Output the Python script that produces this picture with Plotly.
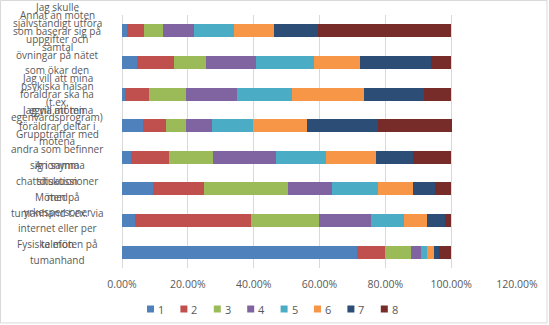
import plotly.graph_objects as go

# Categories, bottom to top (as drawn)
categories = [
    "Fysiska möten på tumanhand",
    "Möten på tumanhand t.ex. via internet eller per telefon",
    "Anonyma chattdiskussioner med yrkespersoner",
    "Gruppträffar med andra som befinner sig i samma situation",
    "Jag vill att mina föräldrar deltar i mötena",
    "Jag vill att mina föräldrar ska ha egna möten",
    "Jag skulle självständigt utföra uppgifter och övningar på nätet som ökar den psykiska hälsan (t.ex. egenvårdsprogram)",
    "Annat än möten som baserar sig på samtal",
]
category_lines = [
    ["Fysiska möten på", "tumanhand"],
    ["Möten på", "tumanhand t.ex. via", "internet eller per", "telefon"],
    ["Anonyma", "chattdiskussioner", "med", "yrkespersoner"],
    ["Gruppträffar med", "andra som befinner", "sig i samma", "situation"],
    ["Jag vill att mina", "föräldrar deltar i", "mötena"],
    ["Jag vill att mina", "föräldrar ska ha", "egna möten"],
    ["Jag skulle", "självständigt utföra", "uppgifter och", "övningar på nätet",
     "som ökar den", "psykiska hälsan", "(t.ex.", "egenvårdsprogram)"],
    ["Annat än möten", "som baserar sig på", "samtal"],
]

series_names = ["1", "2", "3", "4", "5", "6", "7", "8"]
s1 = [71.3, 3.9, 9.5, 2.6, 6.4, 0.9, 4.5, 1.6]
s2 = [8.5, 35.2, 15.3, 11.6, 6.9, 7.2, 11.2, 5.0]
s3 = [7.9, 20.7, 25.5, 13.4, 6.1, 11.3, 9.7, 5.8]
s4 = [3.0, 15.8, 13.4, 19.1, 7.9, 15.5, 15.2, 9.4]
s5 = [2.1, 10.0, 14.0, 15.2, 12.6, 16.7, 17.6, 12.2]
s6 = [2.1, 7.0, 10.6, 15.2, 16.3, 21.9, 14.0, 12.2]
s7 = [1.5, 5.5, 6.7, 11.4, 21.6, 18.2, 21.6, 13.3]
s8 = [3.6, 1.9, 5.0, 11.4, 22.3, 8.2, 6.2, 40.5]
series_values = [s1, s2, s3, s4, s5, s6, s7, s8]

colors = ["#4F81BD", "#C0504D", "#9BBB59", "#8064A2",
          "#4BACC6", "#F79646", "#2C4D75", "#772C2A"]

tick_vals = [0, 0.2, 0.4, 0.6, 0.8, 1.0, 1.2]
tick_text = ["0.00%", "20.00%", "40.00%", "60.00%", "80.00%", "100.00%", "120.00%"]

W, H = 549, 325
ML, MR, MT, MB = 122, 32, 15, 57
PW, PH = W - ML - MR, H - MT - MB
TXT = "#595959"
GRID = "#D9D9D9"


def px_to_paper_x(px):
    return (px - ML) / PW


def px_to_paper_y(py):
    return (H - MB - py) / PH


fig = go.Figure()
for name, vals, col in zip(series_names, series_values, colors):
    fig.add_trace(go.Bar(
        y=categories, x=[v / 100 for v in vals], name=name,
        orientation="h", marker=dict(color=col, line=dict(width=0)),
        showlegend=False,
    ))

annotations = []
# category labels, centered multi-line
line_h = 15.7
for cat, lines in zip(categories, category_lines):
    n = len(lines)
    for i, ln in enumerate(lines):
        annotations.append(dict(
            x=px_to_paper_x(57), xref="paper", y=cat, yref="y",
            text=ln, showarrow=False, xanchor="center", yanchor="middle",
            yshift=((n - 1) / 2 - i) * line_h,
            font=dict(family="Open Sans", size=10, color=TXT),
        ))

shapes = []
# legend keys
leg_x0, leg_pitch, leg_y = 147, 33.4, 309
for i, (name, col) in enumerate(zip(series_names, colors)):
    x0 = leg_x0 + i * leg_pitch
    shapes.append(dict(
        type="rect", xref="paper", yref="paper",
        x0=px_to_paper_x(x0), x1=px_to_paper_x(x0 + 7),
        y0=px_to_paper_y(leg_y + 3.5), y1=px_to_paper_y(leg_y - 3.5),
        fillcolor=col, line=dict(width=0),
    ))
    annotations.append(dict(
        x=px_to_paper_x(x0 + 9), xref="paper", y=px_to_paper_y(leg_y), yref="paper",
        text=name, showarrow=False, xanchor="left", yanchor="middle",
        font=dict(family="Open Sans", size=11, color=TXT),
    ))

# chart border
shapes.append(dict(
    type="rect", xref="paper", yref="paper",
    x0=px_to_paper_x(0.5), x1=px_to_paper_x(547), y0=px_to_paper_y(323), y1=px_to_paper_y(0.5),
    line=dict(color=GRID, width=1), fillcolor="rgba(0,0,0,0)", layer="below",
))

fig.update_layout(
    width=W, height=H,
    margin=dict(l=ML, r=MR, t=MT, b=MB),
    barmode="stack", bargap=0.59,
    plot_bgcolor="white", paper_bgcolor="white",
    xaxis=dict(range=[0, 1.2], tickvals=tick_vals, ticktext=tick_text,
               showgrid=True, gridcolor=GRID, gridwidth=1,
               zeroline=True, zerolinecolor=GRID, zerolinewidth=1,
               showline=False, ticks="", ticklabelstandoff=8,
               tickfont=dict(family="Open Sans", size=10.5, color=TXT),
               fixedrange=True),
    yaxis=dict(range=[-0.5, len(categories) - 0.5], autorange=False,
               showticklabels=False, showgrid=False, zeroline=False,
               showline=False, ticks="", fixedrange=True),
    annotations=annotations, shapes=shapes,
    showlegend=False,
)

fig.write_html("out.html")
